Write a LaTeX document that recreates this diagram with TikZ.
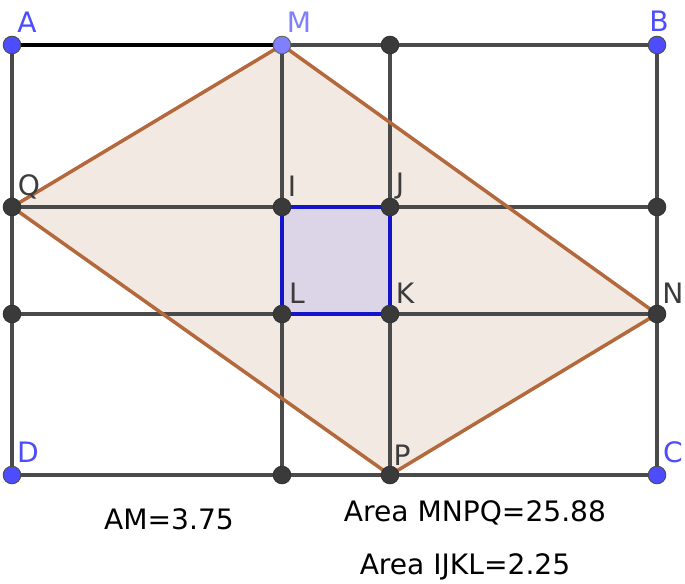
\documentclass[tikz,border=0pt]{standalone}
\usepackage{fontspec}
\setmainfont{DejaVu Sans}
\usetikzlibrary{positioning}
\definecolor{GridGray}{HTML}{4A4A4A}
\definecolor{PtBlue}{HTML}{4D4DFF}
\definecolor{PtLight}{HTML}{7F7FFF}
\definecolor{PtDark}{HTML}{3A3A3A}
\definecolor{Rust}{HTML}{B4693C}
\definecolor{Sand}{HTML}{F2E9E3}
\definecolor{Ink}{HTML}{1414C8}
\definecolor{Lilac}{HTML}{DCD5E8}
\definecolor{LabelGray}{HTML}{3C3C3C}

\begin{document}
\begin{tikzpicture}[
  x=0.03cm, y=-0.03cm,
  grid/.style={draw=GridGray, line width=3pt},
  side/.style={draw=black, line width=3.2pt},
  quad/.style={draw=Rust, line width=3pt, line join=round},
  square/.style={draw=Ink, line width=3.2pt},
  pt/.style={circle, fill=PtDark, draw=black!80, line width=0.8pt, inner sep=0pt, minimum size=15pt},
  bluept/.style={pt, fill=PtBlue, draw=black!70},
  lightpt/.style={pt, fill=PtLight, draw=black!60},
  lbl/.style={font=\fontsize{24}{26}\selectfont, text=LabelGray, inner sep=0pt},
  bluelbl/.style={lbl, text=PtBlue},
  info/.style={font=\fontsize{24}{26}\selectfont, text=black, inner sep=0pt}
]
\useasboundingbox (0,0) rectangle (685,583);
% grid points
\coordinate (A) at (12,45);
\coordinate (M) at (282,45);
\coordinate (T) at (390,45);
\coordinate (B) at (657,45);
\coordinate (Q) at (12,207);
\coordinate (I) at (282,207);
\coordinate (J) at (390,207);
\coordinate (R) at (657,207);
\coordinate (S) at (12,314);
\coordinate (L) at (282,314);
\coordinate (K) at (390,314);
\coordinate (N) at (657,314);
\coordinate (D) at (12,475);
\coordinate (U) at (282,475);
\coordinate (P) at (390,475);
\coordinate (C) at (657,475);

% fills
\fill[Sand] (M) -- (N) -- (P) -- (Q) -- cycle;
\fill[Lilac] (I) -- (J) -- (K) -- (L) -- cycle;

% grid
\draw[grid] (M) -- (B) -- (C) -- (D) -- (A);
\draw[grid] (Q) -- (R);
\draw[grid] (S) -- (N);
\draw[grid] (M) -- (U);
\draw[grid] (T) -- (P);
\draw[side] (A) -- (M);

% shapes
\draw[quad] (M) -- (N) -- (P) -- (Q) -- cycle;
\draw[square] (I) -- (J) -- (K) -- (L) -- cycle;

% points
\foreach \p in {T,Q,I,J,R,S,L,K,N,U,P}
  \node[pt] at (\p) {};
\foreach \p in {A,B,C,D}
  \node[bluept] at (\p) {};
\node[lightpt] at (M) {};

% labels
\node[bluelbl] (lA) at (27,22) {A};
\node[bluelbl, text=PtLight] (lM) at (299,22) {M};
\node[bluelbl] (lB) at (659,21) {B};
\node[lbl] (lQ) at (29,187) {Q};
\node[lbl] (lI) at (292,186) {I};
\node[lbl] (lJ) at (400,186) {J};
\node[lbl] (lL) at (297,293) {L};
\node[lbl] (lK) at (405,293) {K};
\node[lbl] (lN) at (673,293) {N};
\node[bluelbl] (lD) at (28,452) {D};
\node[lbl] (lP) at (402,455) {P};
\node[bluelbl] (lC) at (673,452) {C};

% measurements
\node[info] (am) at (169,519) {AM=3.75};
\node[info] (amnpq) at (475,513) {Area MNPQ=25.88};
\node[info] (aijkl) at (465,567) {Area IJKL=2.25};
\end{tikzpicture}
\end{document}
